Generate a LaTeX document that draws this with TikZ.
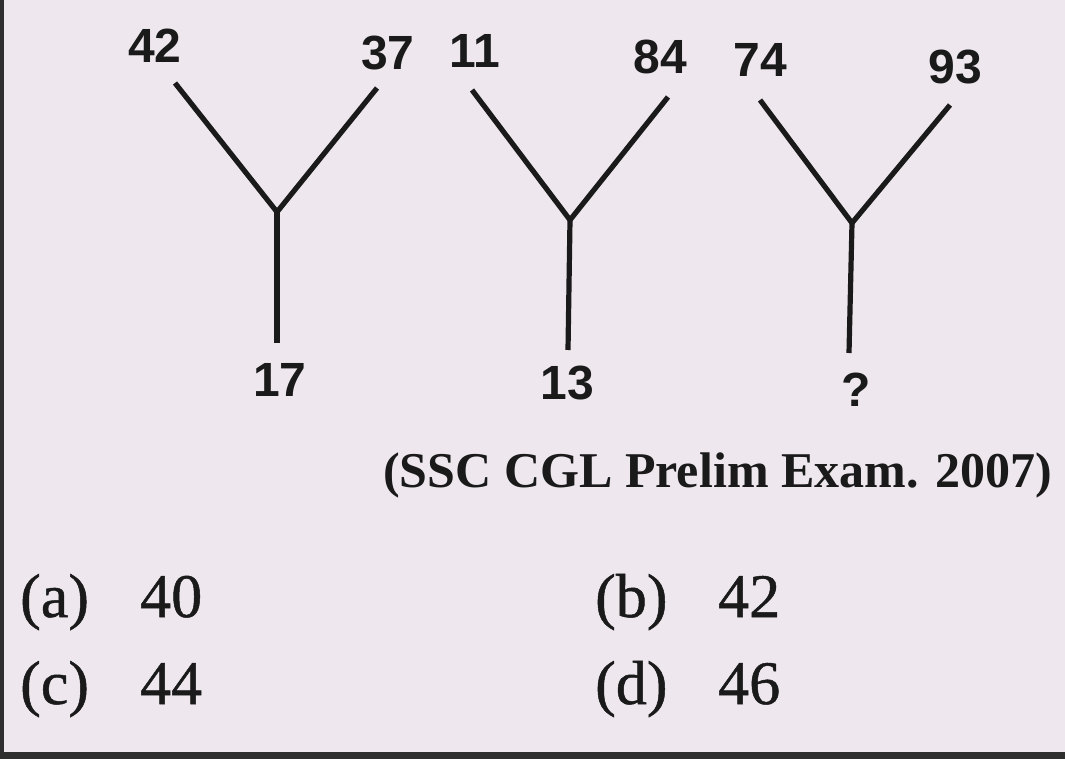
\documentclass[tikz,border=0pt]{standalone}
\usepackage{fontspec}
\setmainfont{Liberation Serif}
\newfontfamily\labfont{Liberation Sans}
\newfontfamily\optfont[FakeBold=0.8]{Liberation Serif}
\definecolor{paper}{HTML}{EEE8EE}
\definecolor{ink}{HTML}{1A1A1A}
\definecolor{frame}{HTML}{2E2E2E}
\begin{document}
\begin{tikzpicture}[x=1pt,y=-1pt,
  lab/.style={inner sep=0pt,anchor=center,text=ink,font=\labfont\bfseries\fontsize{48}{50}\selectfont},
  opt/.style={inner sep=0pt,anchor=base west,text=ink,font=\optfont\fontsize{62}{64}\selectfont},
  arm/.style={draw=ink,line width=5.2pt,line cap=butt,line join=miter}]
\useasboundingbox (0,0) rectangle (1065,759);
\fill[paper] (0,0) rectangle (1065,759);
\fill[frame] (0,0) rectangle (4,759);
\fill[frame] (0,752) rectangle (1065,759);
% first Y
\coordinate (l1) at (175,83);
\coordinate (r1) at (377,88);
\coordinate (j1) at (277,212);
\coordinate (b1) at (277,343);
\node[lab] (n42) at (155,46) {42};
\node[lab] (n37) at (388,53) {37};
\node[lab] (n17) at (280,380) {17};
\draw[arm] (l1) -- (j1) -- (r1);
\draw[arm] (j1) -- (b1);
% second Y
\coordinate (l2) at (472,90);
\coordinate (r2) at (668,97);
\coordinate (j2) at (570,220);
\coordinate (b2) at (568,350);
\node[lab] (n11) at (475,51) {11};
\node[lab] (n84) at (660,57) {84};
\node[lab] (n13) at (567,383) {13};
\draw[arm] (l2) -- (j2) -- (r2);
\draw[arm] (j2) -- (b2);
% third Y
\coordinate (l3) at (760,100);
\coordinate (r3) at (950,105);
\coordinate (j3) at (852,223);
\coordinate (b3) at (849,353);
\node[lab] (n74) at (760,60) {74};
\node[lab] (n93) at (955,67) {93};
\node[lab] (nq) at (856,390) {?};
\draw[arm] (l3) -- (j3) -- (r3);
\draw[arm] (j3) -- (b3);
% caption
\node[inner sep=0pt,anchor=base west,text=ink] (cap) at (383,487)
  {\resizebox{669pt}{!}{\fontsize{48}{50}\selectfont\bfseries (SSC CGL Prelim Exam. 2007)}};
% options
\node[opt] (oa) at (20,617) {(a)};
\node[opt] (va) at (140,617) {40};
\node[opt] (ob) at (595,617) {(b)};
\node[opt] (vb) at (718,617) {42};
\node[opt] (oc) at (20,704) {(c)};
\node[opt] (vc) at (140,704) {44};
\node[opt] (od) at (595,704) {(d)};
\node[opt] (vd) at (718,704) {46};
\end{tikzpicture}
\end{document}
